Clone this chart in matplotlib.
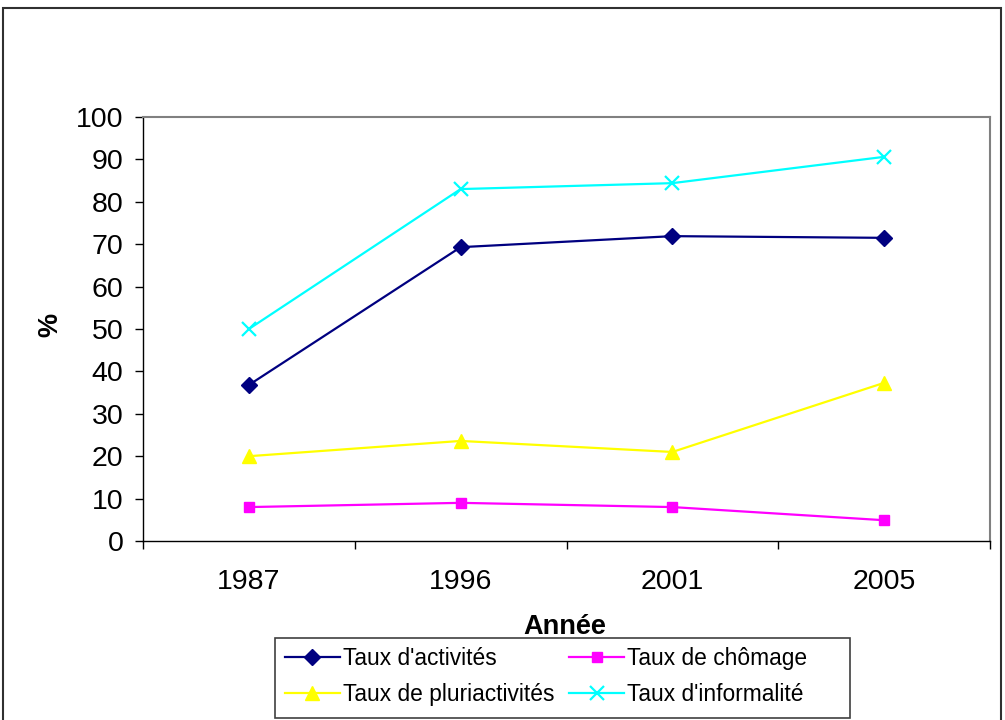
import matplotlib
matplotlib.use("Agg")
import matplotlib.pyplot as plt
from matplotlib.patches import Rectangle

plt.rcParams['font.family'] = ['Liberation Sans', 'DejaVu Sans']

years = ["1987", "1996", "2001", "2005"]
activite = [36.8, 69.3, 71.9, 71.5]
chomage = [8.0, 9.0, 8.0, 4.9]
pluriactivite = [20.0, 23.6, 21.0, 37.3]
informalite = [50.0, 83.0, 84.4, 90.6]
yticks = [0, 10, 20, 30, 40, 50, 60, 70, 80, 90, 100]

W, H = 1005, 720
fig = plt.figure(figsize=(W / 100, H / 100), dpi=100)
ax = fig.add_axes([143 / W, (H - 541) / H, (990 - 143) / W, (541 - 117) / H])

x = list(range(len(years)))
h_act, = ax.plot(x, activite, color="#000080", lw=1.6, marker="D", ms=8,
                 label="Taux d'activités")
h_cho, = ax.plot(x, chomage, color="#FF00FF", lw=1.6, marker="s", ms=7.5,
                 label="Taux de chômage")
h_plu, = ax.plot(x, pluriactivite, color="#FFFF00", lw=1.6, marker="^", ms=9.5,
                 label="Taux de pluriactivités")
h_inf, = ax.plot(x, informalite, color="#00FFFF", lw=1.6, marker="x", ms=9.5,
                 mew=1.6, label="Taux d'informalité")

ax.set_xlim(-0.5, len(years) - 0.5)
ax.set_ylim(0, 100)
ax.set_yticks(yticks)
ax.set_yticklabels([str(v) for v in yticks], fontsize=20.5)
ax.set_xticks(x)
ax.set_xticklabels(years, fontsize=20.5)
ax.tick_params(axis='x', which='major', length=0, pad=20)
ax.set_xticks([i - 0.5 for i in range(len(years) + 1)], minor=True)
ax.tick_params(axis='x', which='minor', length=6, width=1, direction='out')
ax.tick_params(axis='y', length=6, width=1, direction='out', pad=8)

for s in ('top', 'right'):
    ax.spines[s].set_color('#808080')
    ax.spines[s].set_linewidth(1.5)
for s in ('left', 'bottom'):
    ax.spines[s].set_color('black')
    ax.spines[s].set_linewidth(1)

fig.text(565 / W, 1 - 627 / H, "Année", fontsize=19.5, fontweight='bold',
         ha='center', va='center')
fig.text(50 / W, 1 - 325 / H, "%", fontsize=19.5, fontweight='bold',
         ha='center', va='center', rotation=90)

# legend entries, two per row
leg = fig.legend([h_act, h_plu, h_cho, h_inf],
                 [h_act.get_label(), h_plu.get_label(), h_cho.get_label(), h_inf.get_label()],
                 ncol=2, loc='upper left', bbox_to_anchor=(285 / W, 1 - 647 / H),
                 fontsize=16.4, frameon=False, handlelength=2.4,
                 columnspacing=0.65, handletextpad=0.15, borderpad=0.0,
                 labelspacing=0.55, borderaxespad=0)

# legend box
fig.patches.append(Rectangle((275 / W, 1 - 718 / H), (850 - 275) / W, 80 / H,
                             transform=fig.transFigure, fill=False,
                             edgecolor='#404040', linewidth=1.2))

# outer chart frame
fig.patches.append(Rectangle((3 / W, -0.05), 998 / W, 1.05 - 8 / H,
                             transform=fig.transFigure, fill=False,
                             edgecolor='#303030', linewidth=1.5))

fig.savefig("out.png", dpi=100)
